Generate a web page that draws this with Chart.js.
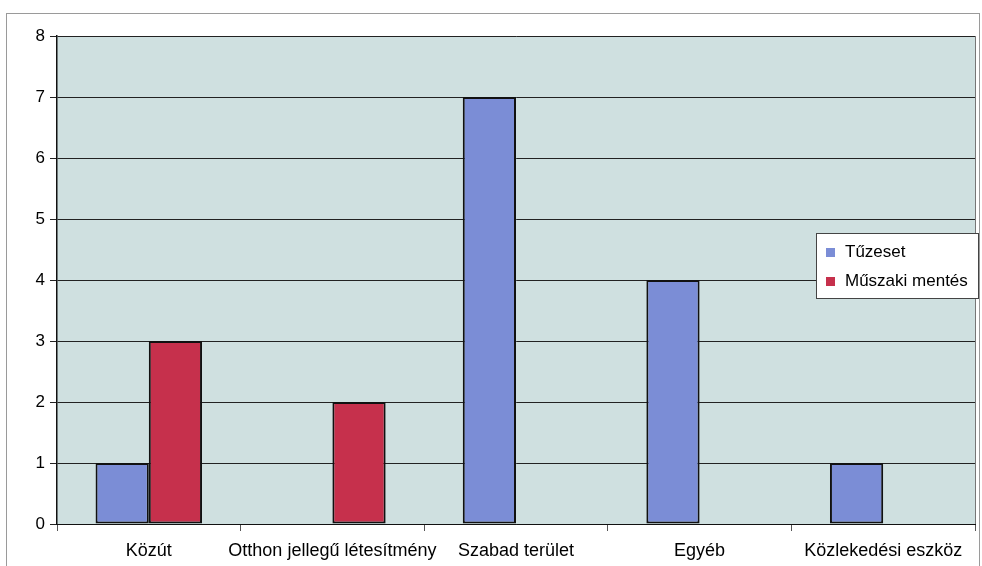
<!DOCTYPE html>
<html>
<head>
<meta charset="utf-8">
<script src="https://cdn.jsdelivr.net/npm/chart.js@4/dist/chart.umd.min.js"></script>
<style>
  html, body { margin: 0; padding: 0; background: #fff; }
  #wrap { width: 982px; height: 566px; }
</style>
</head>
<body>
<div id="wrap"><canvas id="chart" width="982" height="566"></canvas></div>
<script>
const categories = ["Közút", "Otthon jellegű létesítmény", "Szabad terület", "Egyéb", "Közlekedési eszköz"];
const tuzeset = [1, 0, 7, 4, 1];
const muszaki = [3, 2, 0, 0, 0];
const yTicks = [0, 1, 2, 3, 4, 5, 6, 7, 8];

const FONT = "'Liberation Sans', Arial, sans-serif";

// plot area background + outer frame
const backdrop = {
  id: "backdrop",
  beforeDraw(chart) {
    const { ctx, chartArea: a } = chart;
    ctx.save();
    ctx.strokeStyle = "#9a9a9a";
    ctx.lineWidth = 1;
    ctx.strokeRect(6.5, 13.5, 973, 600);
    ctx.fillStyle = "#cfe0e0";
    ctx.fillRect(a.left, a.top, a.right - a.left, a.bottom - a.top);
    ctx.strokeStyle = "#777";
    ctx.beginPath();
    ctx.moveTo(a.right + 0.5, a.top);
    ctx.lineTo(a.right + 0.5, a.bottom);
    ctx.stroke();
    ctx.restore();
  }
};

// legend box overlapping the plot, like the original
const boxLegend = {
  id: "boxLegend",
  afterDraw(chart) {
    const { ctx } = chart;
    const x = 816, y = 233, w = 162, h = 65;
    ctx.save();
    ctx.fillStyle = "#fff";
    ctx.fillRect(x, y, w, h);
    ctx.strokeStyle = "#444";
    ctx.lineWidth = 1;
    ctx.strokeRect(x + 0.5, y + 0.5, w, h);
    ctx.font = "17px " + FONT;
    ctx.textBaseline = "middle";
    chart.data.datasets.forEach((ds, i) => {
      const cy = y + 19 + i * 29;
      ctx.fillStyle = ds.backgroundColor;
      ctx.fillRect(x + 10, cy - 4, 9, 9);
      ctx.fillStyle = "#000";
      ctx.fillText(ds.label, x + 29, cy);
    });
    ctx.restore();
  }
};

new Chart(document.getElementById("chart"), {
  type: "bar",
  data: {
    labels: categories,
    datasets: [
      {
        label: "Tűzeset",
        data: tuzeset,
        backgroundColor: "#7b8dd6",
        borderColor: "#111",
        borderWidth: 2,
        borderSkipped: false
      },
      {
        label: "Műszaki mentés",
        data: muszaki,
        backgroundColor: "#c6304c",
        borderColor: "#111",
        borderWidth: 2,
        borderSkipped: false
      }
    ]
  },
  options: {
    responsive: false,
    animation: false,
    datasets: { bar: { categoryPercentage: 0.58, barPercentage: 1 } },
    layout: { padding: { left: 0, top: 36, right: 7, bottom: 0 } },
    plugins: { legend: { display: false }, tooltip: { enabled: false } },
    scales: {
      x: {
        afterFit(scale) { scale.height = 42; },
        grid: { drawOnChartArea: false, drawTicks: true, tickLength: 7, color: "#555" },
        border: { display: true, color: "#111", width: 1 },
        ticks: { color: "#000", font: { family: FONT, size: 18 }, padding: 9, maxRotation: 0, autoSkip: false }
      },
      y: {
        min: 0,
        max: 8,
        afterFit(scale) { scale.width = 57; },
        afterBuildTicks(scale) { scale.ticks = yTicks.map(v => ({ value: v })); },
        grid: { color: "#222", lineWidth: 1, tickLength: 7 },
        border: { display: true, color: "#111", width: 1.5 },
        ticks: { color: "#000", font: { family: FONT, size: 17 }, padding: 5 }
      }
    }
  },
  plugins: [backdrop, boxLegend]
});
</script>
</body>
</html>
